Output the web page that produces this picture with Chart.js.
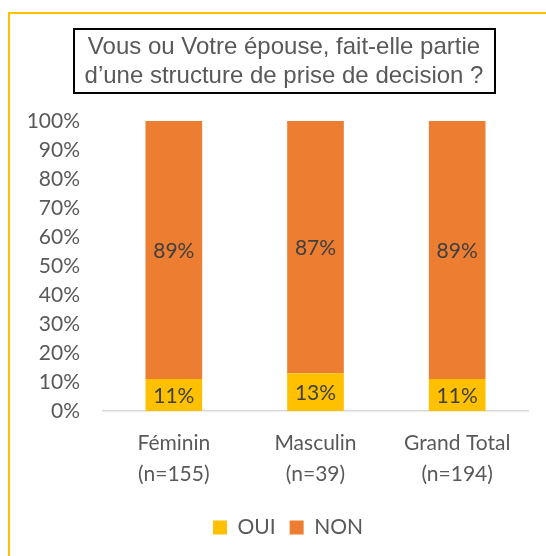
<!DOCTYPE html>
<html>
<head>
<meta charset="utf-8">
<script src="https://cdn.jsdelivr.net/npm/chart.js@4.4.0/dist/chart.umd.min.js"></script>
<style>
  html, body { margin: 0; padding: 0; background: #fff; overflow: hidden; }
  #frame { position: absolute; left: 8px; top: 12px; width: 600px; height: 600px; border: 2px solid #FFC000; }
  #wrap { position: absolute; left: 0; top: 0; width: 546px; height: 556px; }
</style>
</head>
<body>
<div id="frame"></div>
<div id="wrap"><canvas id="myChart" width="546" height="556"></canvas></div>
<script>
const titleLines = ["Vous ou Votre épouse, fait-elle partie", "d’une structure de prise de decision ?"];
const categories = [["Féminin", "(n=155)"], ["Masculin", "(n=39)"], ["Grand Total", "(n=194)"]];
const seriesNames = ["OUI", "NON"];
const ouiValues = [11, 13, 11];
const nonValues = [89, 87, 89];
const yTickValues = [0, 10, 20, 30, 40, 50, 60, 70, 80, 90, 100];

const textGrey = "#595959";

// title and legend sit a little right of the canvas centre in the original
const nudge = {
  id: "nudge",
  afterLayout(chart) {
    chart.titleBlock.left += 10;
    chart.titleBlock.right += 10;
    chart.legend.left += 14;
    chart.legend.right += 14;
  }
};

// draws the black frame round the title
const titleBox = {
  id: "titleBox",
  afterDraw(chart) {
    const t = chart.titleBlock;
    const ctx = chart.ctx;
    const f = t.options.font;
    ctx.save();
    ctx.font = `${f.size}px ${f.family}`;
    let maxW = 0;
    titleLines.forEach((l) => { maxW = Math.max(maxW, ctx.measureText(l).width); });
    const lineH = f.size * f.lineHeight;
    const cx = (t.left + t.right) / 2;
    const top = t.top + t.options.padding.top;
    ctx.strokeStyle = "#000";
    ctx.lineWidth = 2;
    ctx.strokeRect(Math.round(cx - maxW / 2 - 11), Math.round(top - 4), Math.round(maxW + 22), Math.round(lineH * titleLines.length + 6));
    ctx.restore();
  }
};

// percentage labels in the middle of each segment
const barLabels = {
  id: "barLabels",
  afterDatasetsDraw(chart) {
    const ctx = chart.ctx;
    ctx.save();
    ctx.font = "21px Lato";
    ctx.fillStyle = "#404040";
    ctx.textAlign = "center";
    ctx.textBaseline = "middle";
    chart.data.datasets.forEach((ds, i) => {
      chart.getDatasetMeta(i).data.forEach((bar, j) => {
        const p = bar.getProps(["x", "y", "base"], true);
        ctx.fillText(ds.data[j] + "%", p.x, (p.y + p.base) / 2 + 1);
      });
    });
    ctx.restore();
  }
};

const myChart = new Chart("myChart", {
  type: "bar",
  data: {
    labels: categories,
    datasets: [
      { label: seriesNames[0], data: ouiValues, backgroundColor: "#FFC000", borderWidth: 0 },
      { label: seriesNames[1], data: nonValues, backgroundColor: "#ED7D31", borderWidth: 0 },
    ],
  },
  options: {
    responsive: false,
    animation: false,
    devicePixelRatio: 1,
    datasets: { bar: { categoryPercentage: 1, barPercentage: 0.4 } },
    layout: { padding: { left: 20, right: 18, top: 33, bottom: 8 } },
    plugins: {
      title: {
        display: true,
        text: titleLines,
        color: textGrey,
        font: { family: "'Liberation Sans'", size: 24, weight: "normal", lineHeight: 1.2 },
        padding: { top: 0, bottom: 30.4 },
      },
      legend: {
        position: "bottom",
        labels: {
          boxWidth: 14,
          boxHeight: 14,
          color: textGrey,
          font: { family: "Lato", size: 21 },
          padding: 14,
        },
      },
      tooltip: { enabled: false },
    },
    scales: {
      x: {
        stacked: true,
        grid: { display: false, drawTicks: false },
        border: { color: "#d9d9d9", width: 1.5 },
        afterFit: (scale) => { scale.height = 92; },
        ticks: {
          color: textGrey,
          font: { family: "Lato", size: 21, lineHeight: 1.5 },
          padding: 16,
          maxRotation: 0,
        },
      },
      y: {
        stacked: true,
        min: 0,
        max: 100,
        grid: { display: false, drawTicks: false },
        border: { display: false },
        afterBuildTicks: (scale) => { scale.ticks = yTickValues.map((v) => ({ value: v })); },
        afterFit: (scale) => { scale.width = 83; },
        ticks: {
          color: textGrey,
          font: { family: "Lato", size: 21 },
          padding: 23,
          callback: (v) => v + "%",
        },
      },
    },
  },
  plugins: [nudge, titleBox, barLabels],
});
</script>
</body>
</html>
